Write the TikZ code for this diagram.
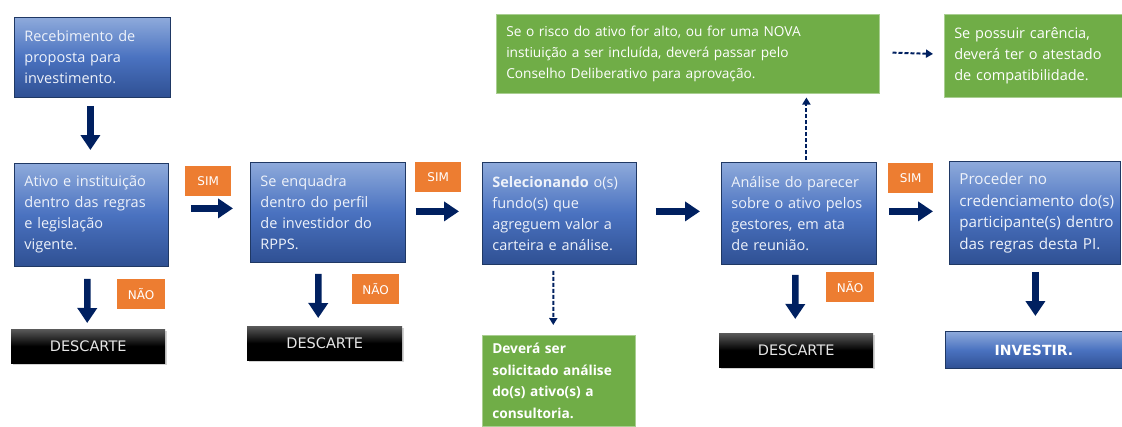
\documentclass[tikz,border=0pt]{standalone}
\usepackage{fontspec}
\newfontfamily\boxfont{Open Sans}
\newfontfamily\labfont{DejaVu Sans}
\usetikzlibrary{arrows.meta,shadows,calc}
\newcommand\tline[1]{\mbox{#1}}
\definecolor{blueTop}{HTML}{8EAADB}
\definecolor{blueMid}{HTML}{4A72C0}
\definecolor{blueBot}{HTML}{2F5093}
\definecolor{boxBorder}{HTML}{1F3864}
\definecolor{greenBox}{HTML}{70AD47}
\definecolor{orangeBox}{HTML}{ED7D31}
\definecolor{navy}{HTML}{002060}
\definecolor{lightText}{HTML}{EEF2FA}
\begin{document}
\begin{tikzpicture}[x=1pt,y=-1pt,
  bluebox/.style={draw=boxBorder, line width=0.8pt, top color=blueTop, bottom color=blueBot, middle color=blueMid,
    text=lightText, font=\boxfont\fontsize{14.5}{21}\selectfont, anchor=north west, align=left,
    inner xsep=10pt, inner ysep=0pt},
  greenbox/.style={fill=greenBox, draw=greenBox!60!white, line width=0.5pt, text=white,
    font=\boxfont\fontsize{14.5}{21}\selectfont, anchor=north west, align=left, inner xsep=10pt, inner ysep=0pt},
  lab/.style={fill=orangeBox, text=white, font=\labfont\fontsize{12}{14}\selectfont, anchor=north west,
    inner sep=0pt, minimum width=46pt, minimum height=30pt},
  desc/.style={top color=black!65, bottom color=black, middle color=black, text=black!10,
    font=\labfont\fontsize{14.5}{16}\selectfont, anchor=north west, inner sep=0pt, minimum height=34pt,
    drop shadow={opacity=0.35, shadow xshift=1.5pt, shadow yshift=-2pt}},
  bigarrow/.style={draw=navy, line width=6.5pt, -{Triangle[length=15pt,width=19pt]}},
  dasharrow/.style={draw=navy, line width=2pt, dash pattern=on 4pt off 2pt, -{Triangle[length=7pt,width=8pt]}}
]
\useasboundingbox (0,0) rectangle (1122,426);

% blue boxes
\node[bluebox, minimum width=156pt, minimum height=80pt, text width=136pt] (b1) at (14,17)
  {\tline{Recebimento de}\\\tline{proposta para}\\\tline{investimento.}};
\node[bluebox, minimum width=154pt, minimum height=103pt, text width=134pt] (b2) at (14,163)
  {\tline{Ativo e instituição}\\\tline{dentro das regras}\\\tline{e legislação}\\\tline{vigente.}};
\node[bluebox, minimum width=155pt, minimum height=100pt, text width=135pt] (b3) at (250,162)
  {\tline{Se enquadra}\\\tline{dentro do perfil}\\\tline{de investidor do}\\\tline{RPPS.}};
\node[bluebox, minimum width=154pt, minimum height=102pt, text width=134pt] (b4) at (482,162)
  {\tline{\textbf{Selecionando} o(s)}\\\tline{fundo(s) que}\\\tline{agreguem valor a}\\\tline{carteira e análise.}};
\node[bluebox, minimum width=155pt, minimum height=102pt, text width=135pt] (b5) at (721,162)
  {\tline{Análise do parecer}\\\tline{sobre o ativo pelos}\\\tline{gestores, em ata}\\\tline{de reunião.}};
\node[bluebox, minimum width=171pt, minimum height=103pt, text width=151pt,
  font=\boxfont\fontsize{15.2}{21.5}\selectfont] (b6) at (949,161)
  {\tline{Proceder no}\\\tline{credenciamento do(s)}\\\tline{participante(s) dentro}\\\tline{das regras desta PI.}};

% green boxes
\node[greenbox, minimum width=383pt, minimum height=79pt, text width=363pt,
  font=\boxfont\fontsize{13.7}{21}\selectfont] (g1) at (496,14)
  {\tline{Se o risco do ativo for alto, ou for uma NOVA}\\\tline{instiuição a ser incluída, deverá passar pelo}\\\tline{Conselho Deliberativo para aprovação.}};
\node[greenbox, minimum width=178pt, minimum height=83pt, text width=158pt] (g2) at (944,14)
  {\tline{Se possuir carência,}\\\tline{deverá ter o atestado}\\\tline{de compatibilidade.}};
\node[greenbox, minimum width=153pt, minimum height=91pt, text width=133pt,
  font=\boxfont\bfseries\fontsize{13.7}{21.5}\selectfont] (g3) at (482,335)
  {\tline{Deverá ser}\\\tline{solicitado análise}\\\tline{do(s) ativo(s) a}\\\tline{consultoria.}};

% labels
\node[lab] (sim1) at (185,166) {SIM};
\node[lab] (sim2) at (415,162) {SIM};
\node[lab, minimum width=45pt] (sim3) at (888,163) {SIM};
\node[lab, minimum width=48pt] (nao1) at (117,279) {NÃO};
\node[lab, minimum width=47pt] (nao2) at (352,274) {NÃO};
\node[lab, minimum width=48pt] (nao3) at (826,272) {NÃO};

% discard / invest
\node[desc, minimum width=154pt] (d1) at (11,329) {DESCARTE};
\node[desc, minimum width=155pt] (d2) at (247,326) {DESCARTE};
\node[desc, minimum width=154pt] (d3) at (719,333) {DESCARTE};
\node[bluebox, align=center, inner xsep=0pt, minimum width=177pt, minimum height=37pt,
  font=\labfont\bfseries\fontsize{14}{16}\selectfont, text=white] (inv) at (945,331) {INVESTIR.};

% big arrows
\draw[bigarrow, shorten <=8pt, shorten >=13pt] ([xshift=-2pt]b1.south) -- ([xshift=-1pt]b2.north);
\draw[bigarrow, shorten <=22pt, shorten >=17pt] ([yshift=6.5pt]b2.east) -- ([yshift=4pt]b3.west);
\draw[bigarrow, shorten <=10pt, shorten >=23pt] ([yshift=1pt]b3.east) -- ([yshift=2pt]b4.west);
\draw[bigarrow, shorten <=19pt, shorten >=21pt] ([yshift=2pt]b4.east) -- ([yshift=2pt]b5.west);
\draw[bigarrow, shorten <=12pt, shorten >=16pt] ([yshift=2pt]b5.east) -- ([yshift=1.5pt]b6.west);
\draw[bigarrow, shorten <=12pt, shorten >=6pt] ([xshift=-4pt]b2.south) -- ([xshift=-1pt]d1.north);
\draw[bigarrow, shorten <=11pt, shorten >=8pt] ([xshift=-9.5pt]b3.south) -- ([xshift=-6.5pt]d2.north);
\draw[bigarrow, shorten <=10pt, shorten >=14pt] ([xshift=-3.5pt]b5.south) -- ([xshift=-1pt]d3.north);
\draw[bigarrow, shorten <=7pt, shorten >=15pt] ([xshift=0.5pt]b6.south) -- ([xshift=1.5pt]inv.north);

% dashed arrows
\draw[dasharrow, shorten <=6pt, shorten >=10pt] ([xshift=-6pt]b4.south) -- ([xshift=-5.5pt]g3.north);
\draw[dasharrow, shorten <=2pt, shorten >=4pt] ([xshift=7.5pt]b5.north) -- ([xshift=7.5pt]b5.north |- g1.south);
\draw[dasharrow, shorten <=13pt, shorten >=11pt] ([yshift=1.5pt]g1.east) -- ([yshift=-0.5pt]g1.east -| g2.west);
\end{tikzpicture}
\end{document}
